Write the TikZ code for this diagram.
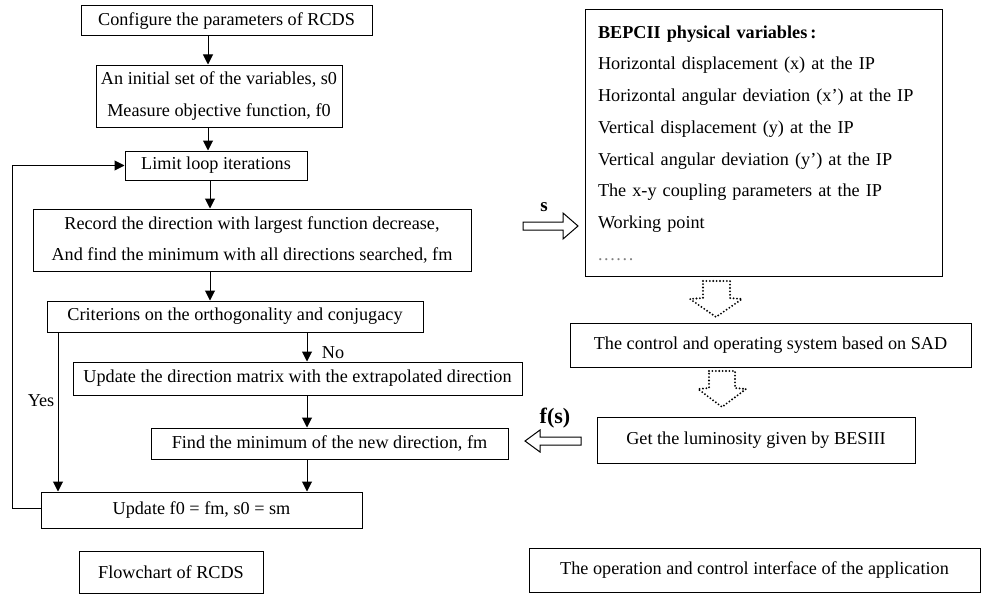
\documentclass[tikz,border=0pt]{standalone}
\usepackage{fontspec}
\setmainfont{Liberation Serif}
\usetikzlibrary{arrows.meta}
\begin{document}
\begin{tikzpicture}[x=1pt,y=-1pt,
  box/.style={draw,line width=1pt,inner sep=0pt,align=center,font=\fontsize{18.2}{31.7}\selectfont},
  lbl/.style={inner sep=0pt,font=\fontsize{18.2}{20}\selectfont},
  arr/.style={line width=1pt,-{Triangle[length=10pt,width=10pt]}},
  hollow/.style={draw,line width=1pt,fill=white},
  dotarrow/.style={draw,line width=2.1pt,dash pattern=on 0pt off 3.4pt,line cap=round,line join=round}]
\useasboundingbox (0,0) rectangle (981,594);

% left flowchart
\node[box,minimum width=291pt,minimum height=30pt] (cfg) at (226.5,21) {Configure the parameters of RCDS};
\node[box,minimum width=246pt,minimum height=62pt] (init) at (219,96) {An initial set of the variables, s0\\Measure objective function, f0};
\node[box,minimum width=182pt,minimum height=29pt] (limit) at (216,165.5) {Limit loop iterations};
\node[box,minimum width=438pt,minimum height=62pt] (rec) at (252,240) {Record the direction with largest function decrease,\\And find the minimum with all directions searched, fm};
\node[box,minimum width=376pt,minimum height=31pt] (crit) at (235,316.5) {Criterions on the orthogonality and conjugacy};
\node[box,minimum width=449pt,minimum height=33pt] (upd) at (297.5,378.5) {Update the direction matrix with the extrapolated direction};
\node[box,minimum width=357pt,minimum height=31pt] (find) at (329.5,443.5) {Find the minimum of the new direction, fm};
\node[box,minimum width=321pt,minimum height=36pt] (upf) at (201.5,510) {Update f0 = fm, s0 = sm};
\node[box,minimum width=184pt,minimum height=42pt] (flow) at (171,572) {Flowchart of RCDS};

\draw[arr] (cfg.south -| 208,0) -- (init.north -| 208,0);
\draw[arr] (init.south -| 208,0) -- (limit.north -| 208,0);
\draw[arr] (limit.south -| 210,0) -- (rec.north -| 210,0);
\draw[arr] (rec.south -| 210,0) -- (crit.north -| 210,0);
\draw[arr] (crit.south -| 307,0) -- (upd.north -| 307,0);
\draw[arr] (upd.south -| 307,0) -- (find.north -| 307,0);
\draw[arr] (find.south -| 307,0) -- (upf.north -| 307,0);
\draw[arr] (crit.south -| 58,0) -- (upf.north -| 58,0);
\draw[arr] (upf.west |- 0,508) -- (12,508) |- (limit.west);
\node[lbl] (no) at (333,353) {No};
\node[lbl] (yes) at (41,401) {Yes};

% right side
\node[box,align=left,minimum width=357pt,minimum height=266pt,text width=331pt,inner xsep=13pt] (bep) at (763.5,143)
 {\textbf{BEPCII physical variables\,:}\\
  Horizontal displacement (x) at the IP\\
  Horizontal angular deviation (x') at the IP\\
  Vertical displacement (y) at the IP\\
  Vertical angular deviation (y') at the IP\\
  The x-y coupling parameters at the IP\\
  Working point\\
  {\color{gray}.\kern1.6pt.\kern1.6pt.\kern1.6pt.\kern1.6pt.\kern1.6pt.}};
\node[box,minimum width=401pt,minimum height=44pt] (ctrl) at (770.5,345) {The control and operating system based on SAD};
\node[box,minimum width=318pt,minimum height=46pt] (lum) at (756,440) {Get the luminosity given by BESIII};
\node[box,minimum width=451pt,minimum height=44pt] (iface) at (754.5,570) {The operation and control interface of the application};

% hollow arrows
\draw[hollow] (523,222) -- (563,222) -- (563,213) -- (578,226) -- (563,239) -- (563,230) -- (523,230) -- cycle;
\node[inner sep=0pt,font=\fontsize{19}{20}\selectfont\bfseries] (s) at (544,207) {s};
\draw[hollow] (581,437) -- (540,437) -- (540,430) -- (525,441) -- (540,452) -- (540,445) -- (581,445) -- cycle;
\node[inner sep=0pt,font=\fontsize{22}{24}\selectfont\bfseries] (fs) at (555,418) {f(s)};

% dotted block arrows
\draw[dotarrow] (703,281) -- (730,281) -- (730,298) -- (742,299) -- (716,317) -- (690,299) -- (703,298) -- cycle;
\draw[dotarrow] (709,371) -- (735,371) -- (735,388) -- (746,389) -- (722,407) -- (698,389) -- (709,388) -- cycle;
\end{tikzpicture}
\end{document}
